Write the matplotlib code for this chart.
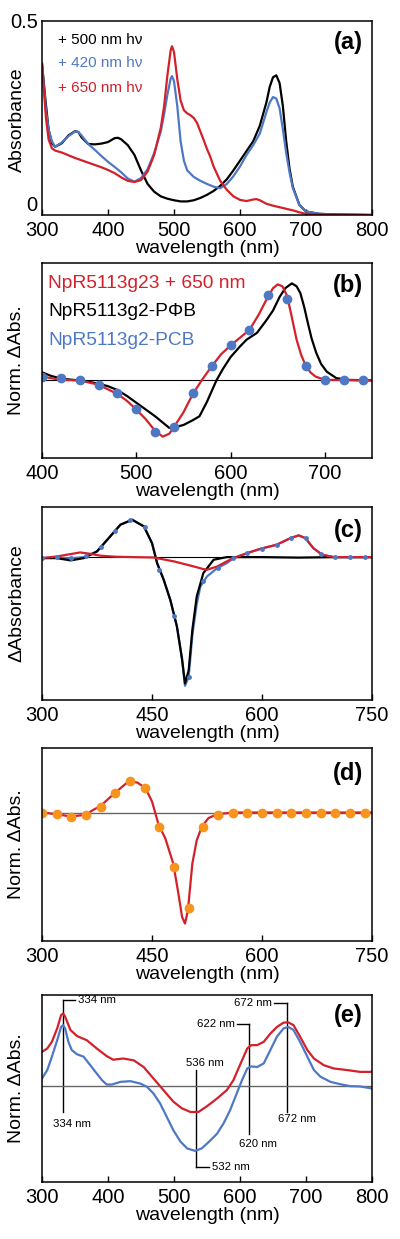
import matplotlib
matplotlib.use("Agg")
import matplotlib.pyplot as plt

plt.rcParams['font.family'] = ['Liberation Sans', 'DejaVu Sans']

RED = '#d4202a'
BLUE = '#4f78c4'
ORANGE = '#f7941e'

# ---- panel (a): absorbance spectra
a_wl_500 = [300, 305, 310, 315, 320, 330, 340, 350, 355, 360, 370, 380, 390, 400, 410, 415, 420, 430, 440,
            450, 460, 470, 480, 490, 500, 510, 520, 530, 540, 550, 560, 570, 580, 590, 600, 610, 620, 630,
            640, 645, 650, 655, 660, 665, 670, 675, 680, 690, 700, 720, 750, 800]
a_abs_500 = [0.39, 0.30, 0.22, 0.185, 0.176, 0.185, 0.205, 0.216, 0.214, 0.20, 0.183, 0.182, 0.184, 0.188,
             0.198, 0.199, 0.195, 0.180, 0.155, 0.115, 0.080, 0.060, 0.048, 0.042, 0.038, 0.035, 0.035, 0.038,
             0.044, 0.052, 0.062, 0.075, 0.092, 0.115, 0.14, 0.165, 0.19, 0.23, 0.29, 0.33, 0.355, 0.36, 0.34,
             0.28, 0.19, 0.12, 0.073, 0.026, 0.009, 0.003, 0.001, 0.0]
a_wl_420 = [300, 303, 306, 310, 315, 320, 330, 340, 350, 355, 360, 370, 380, 390, 400, 410, 420, 430, 440,
            450, 460, 470, 480, 485, 490, 495, 497, 500, 505, 510, 515, 520, 530, 540, 550, 560, 570, 580,
            590, 600, 610, 620, 630, 640, 645, 650, 655, 660, 665, 670, 675, 680, 690, 700, 720, 750, 800]
a_abs_420 = [0.39, 0.33, 0.27, 0.22, 0.19, 0.176, 0.187, 0.203, 0.215, 0.214, 0.205, 0.183, 0.168, 0.152,
             0.137, 0.124, 0.110, 0.094, 0.086, 0.095, 0.118, 0.16, 0.215, 0.26, 0.31, 0.352, 0.358, 0.345,
             0.28, 0.19, 0.14, 0.115, 0.098, 0.088, 0.08, 0.073, 0.069, 0.080, 0.100, 0.125, 0.155, 0.18,
             0.21, 0.265, 0.29, 0.304, 0.30, 0.275, 0.22, 0.16, 0.11, 0.07, 0.026, 0.009, 0.003, 0.001, 0.0]
a_wl_650 = [300, 303, 306, 310, 315, 320, 330, 340, 350, 360, 370, 380, 390, 400, 410, 420, 430, 440, 450,
            460, 470, 480, 485, 490, 495, 497, 500, 505, 510, 515, 520, 525, 530, 535, 540, 545, 550, 555,
            560, 570, 580, 590, 600, 610, 620, 625, 630, 640, 650, 660, 670, 680, 690, 700, 720, 750, 800]
a_abs_650 = [0.39, 0.32, 0.25, 0.195, 0.172, 0.166, 0.161, 0.154, 0.147, 0.141, 0.135, 0.129, 0.123, 0.116,
             0.108, 0.097, 0.088, 0.085, 0.09, 0.112, 0.155, 0.225, 0.28, 0.36, 0.425, 0.435, 0.42, 0.35,
             0.295, 0.27, 0.262, 0.257, 0.25, 0.237, 0.215, 0.193, 0.17, 0.15, 0.125, 0.088, 0.065, 0.048,
             0.039, 0.036, 0.04, 0.041, 0.038, 0.029, 0.024, 0.02, 0.016, 0.012, 0.007, 0.003, 0.002, 0.001, 0.0]
a_labels = ['+ 500 nm h\u03bd', '+ 420 nm h\u03bd', '+ 650 nm h\u03bd']

# ---- panel (b): normalized difference spectra
b_wl_pfb = [400, 410, 420, 430, 440, 450, 460, 470, 480, 490, 500, 510, 520, 530, 535, 540, 550, 560, 567,
            575, 585, 592, 600, 610, 617, 628, 638, 645, 652, 658, 665, 670, 674, 678, 682, 686, 691, 696,
            702, 712, 725, 750]
b_pfb = [0.083, 0.045, 0.02, 0.008, 0.0, -0.015, -0.034, -0.06, -0.10, -0.16, -0.23, -0.30, -0.37, -0.45,
         -0.49, -0.485, -0.46, -0.41, -0.37, -0.22, 0.0, 0.12, 0.24, 0.35, 0.42, 0.49, 0.62, 0.72, 0.86,
         0.95, 1.0, 0.97, 0.9, 0.76, 0.59, 0.43, 0.28, 0.17, 0.09, 0.024, 0.005, 0.0]
b_wl_g23 = [400, 420, 440, 460, 480, 490, 500, 510, 520, 528, 535, 540, 550, 560, 570, 580, 590, 600, 610,
            620, 630, 640, 645, 650, 655, 660, 665, 670, 675, 680, 685, 690, 700, 750]
b_g23 = [0.04, 0.005, 0.0, -0.045, -0.14, -0.21, -0.30, -0.40, -0.52, -0.58, -0.55, -0.48, -0.33, -0.14,
         0.01, 0.145, 0.27, 0.36, 0.44, 0.52, 0.68, 0.87, 0.95, 0.99, 0.97, 0.87, 0.65, 0.42, 0.26, 0.145,
         0.08, 0.04, 0.005, 0.0]
b_wl_pcb = [400, 420, 440, 460, 480, 500, 520, 540, 560, 580, 600, 620, 640, 660, 680, 700, 720, 740]
b_pcb = [0.034, 0.024, 0.0, -0.045, -0.13, -0.30, -0.53, -0.48, -0.13, 0.145, 0.36, 0.52, 0.88, 0.84,
         0.145, 0.0, 0.0, 0.0]
b_labels = ['NpR5113g23 + 650 nm', 'NpR5113g2-P\u03a6B', 'NpR5113g2-PCB']

# ---- panel (c): difference spectra
c_wl_black = [300, 320, 339, 357, 375, 393, 407, 423, 439, 450, 457, 466, 475, 484, 491, 495, 500, 505,
              511, 520, 534, 552, 600, 650, 700, 750]
c_black = [-0.008, -0.008, -0.026, -0.008, 0.045, 0.164, 0.257, 0.296, 0.243, 0.111, -0.048, -0.18, -0.34,
           -0.55, -0.81, -1.0, -0.897, -0.577, -0.312, -0.127, -0.021, 0.0, 0.0, -0.004, 0.0, 0.0]
c_wl_blue = [300, 320, 339, 357, 375, 393, 407, 423, 439, 450, 457, 466, 475, 484, 491, 495, 500, 505, 511,
             516, 525, 539, 552, 561, 580, 598, 620, 639, 650, 659, 670, 682, 698, 750]
c_blue = [-0.008, -0.003, -0.01, 0.0, 0.045, 0.164, 0.257, 0.296, 0.243, 0.111, -0.048, -0.18, -0.34, -0.55,
          -0.81, -1.02, -0.95, -0.62, -0.37, -0.233, -0.153, -0.087, -0.048, -0.008, 0.032, 0.066, 0.098,
          0.151, 0.172, 0.151, 0.071, 0.019, 0.0, 0.0]
c_wl_dots = [300, 320, 340, 360, 380, 400, 420, 440, 460, 480, 500, 520, 540, 560, 580, 600, 620, 640, 660,
             680, 700, 720, 740]
c_dots = [-0.008, -0.003, -0.01, 0.005, 0.08, 0.21, 0.295, 0.24, -0.1, -0.47, -0.95, -0.19, -0.085, -0.01,
          0.032, 0.068, 0.098, 0.152, 0.148, 0.025, 0.0, 0.0, 0.0]
c_wl_red = [300, 320, 334, 352, 366, 380, 400, 425, 452, 480, 507, 520, 525, 539, 552, 561, 580, 598, 620,
            639, 650, 659, 670, 682, 698, 750]
c_red = [-0.008, 0.005, 0.019, 0.037, 0.026, 0.011, 0.003, 0.0, -0.003, -0.034, -0.074, -0.095, -0.1,
         -0.074, -0.034, -0.008, 0.032, 0.066, 0.098, 0.151, 0.172, 0.151, 0.071, 0.019, 0.0, 0.0]

# ---- panel (d)
d_wl = [300, 320, 339, 359, 370, 380, 400, 418, 430, 441, 450, 459, 468, 479, 486, 491, 495, 499, 505, 511,
        518, 527, 539, 561, 750]
d_val = [0.0, -0.015, -0.036, -0.021, 0.024, 0.06, 0.18, 0.28, 0.27, 0.22, 0.1, -0.11, -0.23, -0.46, -0.73,
         -0.94, -1.0, -0.88, -0.46, -0.25, -0.127, -0.05, -0.015, 0.0, 0.0]
d_wl_dots = [300, 320, 340, 360, 380, 400, 420, 440, 460, 480, 500, 520, 540, 560, 580, 600, 620, 640, 660,
             680, 700, 720, 740]
d_dots = [0.0, -0.015, -0.036, -0.021, 0.054, 0.18, 0.286, 0.22, -0.127, -0.488, -0.858, -0.127, -0.021,
          0.0, 0.0, 0.0, 0.0, 0.0, 0.0, 0.0, 0.0, 0.0, 0.0]

# ---- panel (e)
e_wl_blue = [300, 308, 315, 323, 329, 332, 335, 340, 345, 353, 363, 371, 381, 391, 398, 406, 419, 434, 449,
             459, 469, 479, 489, 499, 510, 520, 532, 542, 553, 565, 575, 585, 595, 603, 611, 617, 626, 636,
             646, 656, 666, 673, 681, 691, 702, 712, 722, 737, 752, 767, 782, 800]
e_blue = [0.12, 0.26, 0.48, 0.75, 0.97, 1.0, 0.945, 0.725, 0.59, 0.52, 0.48, 0.37, 0.23, 0.093, 0.022, 0.022,
          0.066, 0.077, 0.038, -0.016, -0.126, -0.29, -0.51, -0.73, -0.92, -1.03, -1.07, -1.03, -0.92, -0.79,
          -0.62, -0.4, -0.126, 0.093, 0.286, 0.32, 0.31, 0.37, 0.59, 0.81, 0.945, 0.97, 0.92, 0.725, 0.48,
          0.26, 0.15, 0.066, 0.027, -0.005, -0.01, -0.044]
e_wl_red = [300, 308, 315, 323, 329, 332, 335, 343, 353, 368, 383, 398, 408, 423, 439, 454, 469, 484, 499,
            512, 525, 537, 550, 565, 580, 590, 601, 611, 617, 626, 636, 646, 656, 666, 673, 681, 691, 702,
            712, 727, 742, 762, 782, 798, 800]
e_red = [0.56, 0.615, 0.725, 0.945, 1.165, 1.19, 1.14, 0.92, 0.82, 0.75, 0.615, 0.49, 0.43, 0.45, 0.42, 0.31,
         0.12, -0.07, -0.26, -0.37, -0.43, -0.43, -0.335, -0.21, -0.07, 0.093, 0.37, 0.615, 0.67, 0.67, 0.725,
         0.86, 0.97, 1.04, 1.045, 1.0, 0.81, 0.59, 0.45, 0.34, 0.286, 0.26, 0.23, 0.23, 0.24]
# peak label: (line wl, line top, line bottom, top text, bottom text)
e_marks = [(332, 1.41, -0.43, '334 nm', '334 nm'),
           (534, 0.26, -1.335, '536 nm', '532 nm'),
           (613, 1.02, -0.79, '622 nm', '620 nm'),
           (671, 1.36, -0.43, '672 nm', '672 nm')]

fig = plt.figure(figsize=(4.0, 12.39), dpi=100)
W, H = 400.0, 1239.0
YLAB_X = -0.05


def make_ax(top, bottom):
    ax = fig.add_axes([42 / W, 1 - bottom / H, 330 / W, (bottom - top) / H])
    for s in ax.spines.values():
        s.set_linewidth(1.1)
    ax.tick_params(axis='x', direction='in', length=4, width=1.0, labelsize=14.5, pad=4, top=False)
    ax.tick_params(axis='y', length=0, labelsize=14.5, pad=3)
    ax.set_xlabel('wavelength (nm)', fontsize=14, labelpad=0)
    return ax


def tag(ax, s, y):
    ax.text(0.927, y, s, transform=ax.transAxes, fontsize=17, fontweight='bold', ha='center', va='center')


# (a)
ax = make_ax(21, 215)
ax.plot(a_wl_500, a_abs_500, color='black', lw=1.6)
ax.plot(a_wl_420, a_abs_420, color=BLUE, lw=1.6)
ax.plot(a_wl_650, a_abs_650, color=RED, lw=1.6)
ax.set_xlim(300, 800)
ax.set_ylim(0, 0.5)
ax.set_xticks([300, 400, 500, 600, 700, 800])
ax.set_yticks([0, 0.5])
ax.set_yticklabels(['0', '0.5'])
ax.get_yticklabels()[0].set_va('bottom')
ax.set_ylabel('Absorbance', fontsize=14)
ax.yaxis.set_label_coords(YLAB_X, 0.49)
for lab, c, y in zip(a_labels, ['black', BLUE, RED], [0.902, 0.784, 0.655]):
    ax.text(0.048, y, lab, transform=ax.transAxes, color=c, fontsize=11, va='center')
tag(ax, '(a)', 0.887)

# (b)
ax = make_ax(263, 458)
ax.axhline(0, color='black', lw=0.8)
ax.plot(b_wl_pfb, b_pfb, color='black', lw=1.6)
ax.plot(b_wl_g23, b_g23, color=RED, lw=1.6)
ax.plot(b_wl_pcb, b_pcb, 'o', color=BLUE, ms=6)
ax.set_xlim(400, 750)
ax.set_ylim(-0.80, 1.21)
ax.set_xticks([400, 500, 600, 700])
ax.set_yticks([])
ax.set_ylabel('Norm. \u0394Abs.', fontsize=14)
ax.yaxis.set_label_coords(YLAB_X, 0.5)
for lab, c, y in zip(b_labels, [RED, 'black', BLUE], [0.897, 0.749, 0.605]):
    ax.text(0.018, y, lab, transform=ax.transAxes, color=c, fontsize=13.8, va='center')
tag(ax, '(b)', 0.887)

# (c)
ax = make_ax(507, 700)
ax.axhline(0, color='black', lw=0.8)
ax.plot(c_wl_blue, c_blue, color=BLUE, lw=1.6)
ax.plot(c_wl_black, c_black, color='black', lw=1.6)
ax.plot(c_wl_red, c_red, color=RED, lw=1.6)
ax.plot(c_wl_dots, c_dots, 'o', color=BLUE, ms=2.5)
ax.set_xlim(300, 750)
ax.set_ylim(-1.132, 0.397)
ax.set_xticks([300, 450, 600, 750])
ax.set_yticks([])
ax.set_ylabel('\u0394Absorbance', fontsize=14)
ax.yaxis.set_label_coords(YLAB_X, 0.5)
tag(ax, '(c)', 0.88)

# (d)
ax = make_ax(748, 941)
ax.axhline(0, color='#666666', lw=1.0)
ax.plot(d_wl, d_val, color=RED, lw=1.6)
ax.plot(d_wl_dots, d_dots, 'o', color=ORANGE, ms=6)
ax.set_xlim(300, 750)
ax.set_ylim(-1.157, 0.581)
ax.set_xticks([300, 450, 600, 750])
ax.set_yticks([])
ax.set_ylabel('Norm. \u0394Abs.', fontsize=14)
ax.yaxis.set_label_coords(YLAB_X, 0.5)
tag(ax, '(d)', 0.87)

# (e)
ax = make_ax(995, 1182)
ax.axhline(0, color='#666666', lw=1.0)
for wl, top, bot, t_top, t_bot in e_marks:
    ax.plot([wl, wl], [top, bot], color='black', lw=1.0, zorder=1)
ax.plot(e_wl_red, e_red, color=RED, lw=1.6)
ax.plot(e_wl_blue, e_blue, color=BLUE, lw=1.6)
fs = 8.2
# 334 nm
ax.plot([332, 350], [1.41, 1.41], color='black', lw=1.0)
ax.text(355, 1.41, e_marks[0][3], fontsize=fs, va='center', ha='left')
ax.text(346, -0.62, e_marks[0][4], fontsize=fs, va='center', ha='center')
# 536 / 532 nm
ax.text(547, 0.37, e_marks[1][3], fontsize=fs, va='center', ha='center')
ax.plot([534, 553], [-1.335, -1.335], color='black', lw=1.0)
ax.text(557, -1.335, e_marks[1][4], fontsize=fs, va='center', ha='left')
# 622 / 620 nm
ax.plot([595, 613], [1.02, 1.02], color='black', lw=1.0)
ax.text(592, 1.02, e_marks[2][3], fontsize=fs, va='center', ha='right')
ax.text(628, -0.95, e_marks[2][4], fontsize=fs, va='center', ha='center')
# 672 nm
ax.plot([651, 671], [1.36, 1.36], color='black', lw=1.0)
ax.text(648, 1.36, e_marks[3][3], fontsize=fs, va='center', ha='right')
ax.text(686, -0.54, e_marks[3][4], fontsize=fs, va='center', ha='center')
ax.set_xlim(300, 800)
ax.set_ylim(-1.582, 1.495)
ax.set_xticks([300, 400, 500, 600, 700, 800])
ax.set_yticks([])
ax.set_ylabel('Norm. \u0394Abs.', fontsize=14)
ax.yaxis.set_label_coords(YLAB_X, 0.5)
tag(ax, '(e)', 0.893)

fig.savefig('out.png', dpi=100)
